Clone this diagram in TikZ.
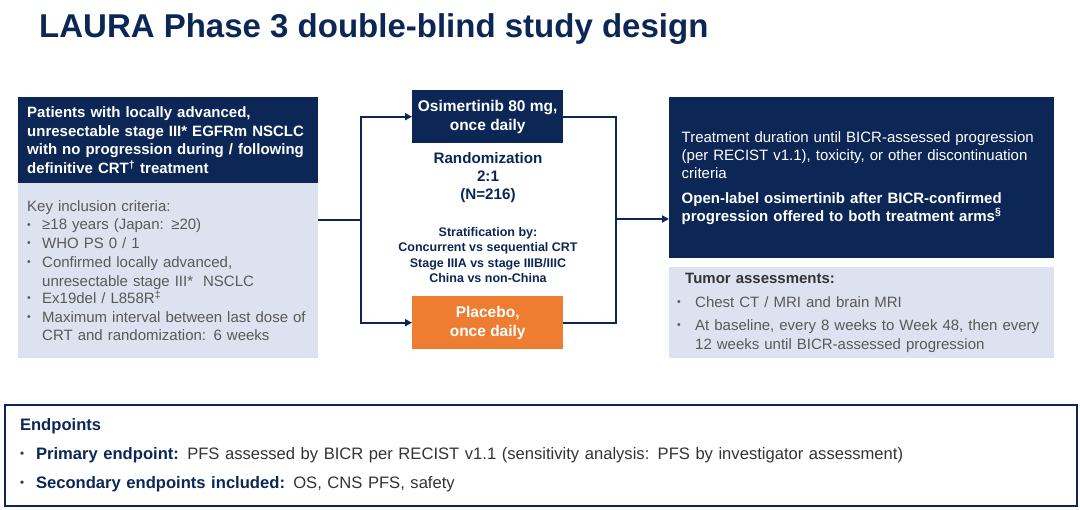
\documentclass[tikz,border=0pt]{standalone}
\usepackage{fontspec}
\setmainfont{Liberation Sans}
\usetikzlibrary{arrows.meta,positioning}

\definecolor{navy}{HTML}{0C2756}
\definecolor{paleblue}{HTML}{DCE2EF}
\definecolor{armorange}{HTML}{EE7D31}
\definecolor{greytext}{HTML}{595959}
\definecolor{darktext}{HTML}{333333}

\setlength{\parindent}{0pt}
\setlength{\parskip}{0pt}
\hyphenpenalty=10000
\exhyphenpenalty=10000

% bullet and bullet item with hanging text
\newcommand{\bull}{\raisebox{0.12em}{\scalebox{0.7}{•}}}
\newcommand{\itm}[2][15pt]{\par\noindent\makebox[#1][l]{\bull}%
    \parbox[t]{\dimexpr\hsize-#1\relax}{\raggedright #2}\par}

\begin{document}
\begin{tikzpicture}[x=1pt,y=-1pt]

    \useasboundingbox (0,0) rectangle (1080,510);

    % --------------------
    % Estilos
    % --------------------
    \tikzset{
        darkbox/.style={fill=navy, text=white, anchor=north west, align=left, inner ysep=0pt},
        lightbox/.style={fill=paleblue, text=greytext, anchor=north west, align=left, inner ysep=0pt},
        armbox/.style={text=white, font=\bfseries\fontsize{15.5}{19}\selectfont, align=center,
            minimum width=151pt, minimum height=53pt, anchor=north west, inner sep=0pt},
        conn/.style={draw=navy, line width=2pt},
        arr/.style={conn, -{Triangle[length=7pt,width=7pt]}}
    }

    % --------------------
    % Titulo
    % --------------------
    \node[anchor=base west, inner sep=0pt, text=navy, font=\bfseries\fontsize{33}{34}\selectfont]
        (title) at (39,38) {LAURA Phase 3 double-blind study design};

    % --------------------
    % Pacientes
    % --------------------
    \node[darkbox, inner xsep=9pt, text width=282pt, minimum height=86pt,
        font=\bfseries\fontsize{15}{18.8}\selectfont] (pat) at (18,97)
        {Patients with locally advanced,\\
         unresectable stage III* EGFRm NSCLC\\
         with no progression during / following\\
         definitive CRT\textsuperscript{†} treatment};

    \node[lightbox, inner xsep=9pt, text width=282pt, minimum height=175pt,
        font=\fontsize{15}{18.8}\selectfont] (incl) at (18,183)
        {Key inclusion criteria:
         \itm{≥18 years (Japan: ≥20)}
         \itm{WHO PS 0 / 1}
         \itm{Confirmed locally advanced,\\ unresectable stage III*~~NSCLC}
         \itm{Ex19del / L858R\textsuperscript{‡}}
         \itm{Maximum interval between last dose of CRT and randomization: 6 weeks}};

    % --------------------
    % Bracos
    % --------------------
    \node[armbox, fill=navy] (osim) at (412,90) {Osimertinib 80 mg,\\ once daily};
    \node[armbox, fill=armorange] (plac) at (412,296) {Placebo,\\ once daily};

    \node[text=navy, align=center, font=\bfseries\fontsize{15.2}{18}\selectfont]
        (rand) at (488,178) {Randomization\\ 2:1\\ (N=216)};
    \node[text=navy, align=center, font=\bfseries\fontsize{12.5}{15.5}\selectfont]
        (strat) at (488,255) {Stratification by:\\ Concurrent vs sequential CRT\\
         Stage IIIA vs stage IIIB/IIIC\\ China vs non-China};

    % --------------------
    % Tratamento
    % --------------------
    \node[darkbox, inner xsep=12.5pt, text width=360pt, minimum height=161pt,
        font=\fontsize{15}{18}\selectfont] (treat) at (669,97)
        {Treatment duration until BICR-assessed progression (per RECIST v1.1), toxicity, or other discontinuation criteria\par
         \vspace{7pt}
         {\bfseries Open-label osimertinib after BICR-confirmed progression offered to both treatment arms\textsuperscript{§}}};

    \node[lightbox, inner xsep=8pt, text width=369pt, minimum height=91pt,
        font=\fontsize{15}{18.5}\selectfont] (tumor) at (669,267)
        {\hspace*{8pt}{\bfseries\color{darktext}Tumor assessments:}\par\vspace{5pt}
         \itm[18pt]{Chest CT / MRI and brain MRI}\vspace{5pt}
         \itm[18pt]{At baseline, every 8 weeks to Week 48, then every 12 weeks until BICR-assessed progression}};

    % --------------------
    % Conectores
    % --------------------
    \coordinate (split) at (361,220);
    \coordinate (merge) at (616,219);

    \draw[conn] (incl.east |- split) -- (split);
    \draw[arr] (split) |- (osim.west);
    \draw[arr] (split) |- (plac.west);
    \draw[conn] (osim.east) -| (merge) |- (plac.east);
    \draw[arr] (merge) -- (treat.west |- merge);

    % --------------------
    % Endpoints
    % --------------------
    \node[draw=navy, line width=2pt, anchor=north west, align=left, inner xsep=15pt,
        text width=1042pt, minimum height=101pt, text=darktext,
        font=\fontsize{16.6}{28.8}\selectfont] (endp) at (4,404)
        {{\bfseries\color{navy}Endpoints}\\
         \makebox[16pt][l]{\bull}{\bfseries\color{navy}Primary endpoint:} PFS assessed by BICR per RECIST v1.1 (sensitivity analysis: PFS by investigator assessment)\\
         \makebox[16pt][l]{\bull}{\bfseries\color{navy}Secondary endpoints included:} OS, CNS PFS, safety};

\end{tikzpicture}
\end{document}
